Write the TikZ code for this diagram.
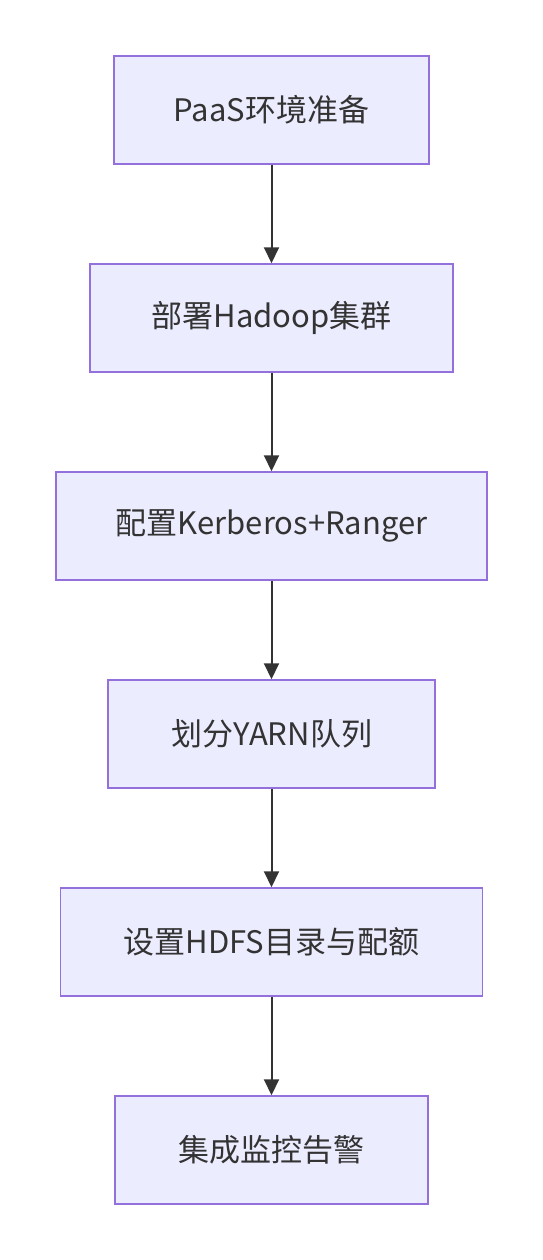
\documentclass[tikz,border=0pt]{standalone}
\usepackage{fontspec}
\setmainfont{Noto Sans CJK SC}
\usetikzlibrary{arrows.meta}
\definecolor{boxfill}{HTML}{ECECFF}
\definecolor{boxdraw}{HTML}{9370DB}
\definecolor{txt}{HTML}{333333}
\begin{document}
\begin{tikzpicture}[x=1pt,y=-1pt,
  stepbox/.style={draw=boxdraw,fill=boxfill,line width=1.5pt,text=txt,
    font=\fontsize{31}{35}\selectfont,inner sep=0pt},
  conn/.style={draw=txt,line width=2pt,-{Triangle[length=16pt,width=15pt]}}]
\useasboundingbox (0,0) rectangle (543,1260);
\node[stepbox,minimum width=315pt,minimum height=108pt] (a) at (271.5,110) {PaaS环境准备};
\node[stepbox,minimum width=363pt,minimum height=108pt] (b) at (271.5,318) {部署Hadoop集群};
\node[stepbox,minimum width=431pt,minimum height=108pt] (c) at (271.5,526) {配置Kerberos+Ranger};
\node[stepbox,minimum width=327pt,minimum height=108pt] (d) at (271.5,734) {划分YARN队列};
\node[stepbox,minimum width=422pt,minimum height=108pt] (e) at (271.5,942) {设置HDFS目录与配额};
\node[stepbox,minimum width=313pt,minimum height=108pt] (f) at (271.5,1150) {集成监控告警};
\draw[conn] (a) -- (b);
\draw[conn] (b) -- (c);
\draw[conn] (c) -- (d);
\draw[conn] (d) -- (e);
\draw[conn] (e) -- (f);
\end{tikzpicture}
\end{document}
